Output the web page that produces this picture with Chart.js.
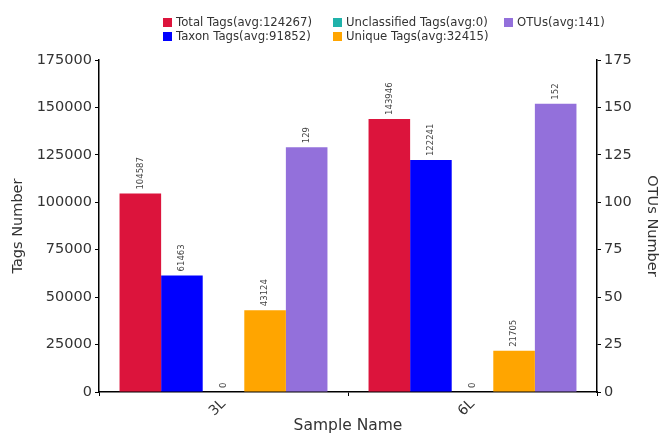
<!DOCTYPE html>
<html>
<head>
<meta charset="utf-8">
<script src="https://cdn.jsdelivr.net/npm/chart.js@4"></script>
<style>
  body { margin: 0; background: #fff; }
</style>
</head>
<body>
<canvas id="myChart" width="660" height="435"></canvas>
<script>
// data
const samples = ['3L', '6L'];
const totalTags = [104587, 143946];
const taxonTags = [61463, 122241];
const unclassifiedTags = [0, 0];
const uniqueTags = [43124, 21705];
const otus = [129, 152];
const tagTicks = [0, 25000, 50000, 75000, 100000, 125000, 150000, 175000];
const otuTicks = [0, 25, 50, 75, 100, 125, 150, 175];

const avg = arr => Math.round(arr.reduce((a, b) => a + b, 0) / arr.length);
const txt = '#333';
const fontFam = '"DejaVu Sans", sans-serif';

// value labels, rotated, above each bar
const barLabels = {
  id: 'barLabels',
  afterDatasetsDraw(chart) {
    const c = chart.ctx;
    c.save();
    c.font = '8.5px ' + fontFam;
    c.fillStyle = '#444';
    c.textAlign = 'left';
    c.textBaseline = 'middle';
    chart.data.datasets.forEach((ds, i) => {
      chart.getDatasetMeta(i).data.forEach((bar, j) => {
        c.save();
        c.translate(bar.x, bar.y - 4);
        c.rotate(-Math.PI / 2);
        c.fillText(String(ds.data[j]), 0, 0);
        c.restore();
      });
    });
    c.restore();
  }
};

// legend laid out as a 3-column grid
const gridLegend = {
  id: 'gridLegend',
  afterDraw(chart) {
    const c = chart.ctx;
    const order = [0, 2, 4, 1, 3];
    const cols = [163, 333, 504];
    const rows = [22, 36];
    c.save();
    c.font = '11.7px ' + fontFam;
    c.textBaseline = 'middle';
    c.textAlign = 'left';
    order.forEach((di, k) => {
      const ds = chart.data.datasets[di];
      const x = cols[k % 3], y = rows[Math.floor(k / 3)];
      c.fillStyle = ds.backgroundColor;
      c.fillRect(x, y - 4, 9, 9);
      c.fillStyle = txt;
      c.fillText(ds.legendText, x + 13, y + 1);
    });
    c.restore();
  }
};

const ctx = document.getElementById('myChart').getContext('2d');

const myChart = new Chart(ctx, {
  type: 'bar',
  data: {
    labels: samples,
    datasets: [{
      label: 'Total Tags',
      legendText: 'Total Tags(avg:' + avg(totalTags) + ')',
      data: totalTags,
      backgroundColor: '#DC143C',
      yAxisID: 'y'
    }, {
      label: 'Taxon Tags',
      legendText: 'Taxon Tags(avg:' + avg(taxonTags) + ')',
      data: taxonTags,
      backgroundColor: '#0000FF',
      yAxisID: 'y'
    }, {
      label: 'Unclassified Tags',
      legendText: 'Unclassified Tags(avg:' + avg(unclassifiedTags) + ')',
      data: unclassifiedTags,
      backgroundColor: '#20B2AA',
      yAxisID: 'y'
    }, {
      label: 'Unique Tags',
      legendText: 'Unique Tags(avg:' + avg(uniqueTags) + ')',
      data: uniqueTags,
      backgroundColor: '#FFA500',
      yAxisID: 'y'
    }, {
      label: 'OTUs',
      legendText: 'OTUs(avg:' + avg(otus) + ')',
      data: otus,
      backgroundColor: '#9370DB',
      yAxisID: 'y1'
    }]
  },
  options: {
    responsive: false,
    animation: false,
    devicePixelRatio: 1,
    categoryPercentage: 0.835,
    barPercentage: 1,
    layout: { padding: { top: 60, left: 0, right: 0, bottom: 0 } },
    plugins: {
      legend: { display: false },
      tooltip: { enabled: false }
    },
    scales: {
      x: {
        afterFit: s => { s.height = 43; },
        grid: { drawOnChartArea: false, color: '#000', tickLength: 4 },
        border: { color: '#000', width: 1.5 },
        ticks: { color: txt, font: { size: 14, family: fontFam }, minRotation: 45, maxRotation: 45, padding: 0 },
        title: { display: true, text: 'Sample Name', color: txt, font: { size: 15.5, family: fontFam }, padding: { top: 0, bottom: 0 } }
      },
      y: {
        position: 'left',
        min: 0,
        max: 175000,
        afterFit: s => { s.width = 99; },
        afterBuildTicks: s => { s.ticks = tagTicks.map(v => ({ value: v })); },
        grid: { drawOnChartArea: false, color: '#000', tickLength: 4 },
        border: { color: '#000', width: 1.5 },
        ticks: { color: txt, font: { size: 14.5, family: fontFam }, padding: 3, callback: v => String(v) },
        title: { display: true, text: 'Tags Number', color: txt, font: { size: 14.5, family: fontFam }, padding: { top: 10, bottom: 0 } }
      },
      y1: {
        position: 'right',
        min: 0,
        max: 175,
        afterFit: s => { s.width = 63; },
        afterBuildTicks: s => { s.ticks = otuTicks.map(v => ({ value: v })); },
        grid: { drawOnChartArea: false, color: '#000', tickLength: 4 },
        border: { color: '#000', width: 1.5 },
        ticks: { color: txt, font: { size: 14.5, family: fontFam }, padding: 3, callback: v => String(v) },
        title: { display: true, text: 'OTUs Number', color: txt, font: { size: 14.5, family: fontFam }, padding: { top: 0, bottom: 1 } }
      }
    }
  },
  plugins: [barLabels, gridLegend]
});
</script>
</body>
</html>
